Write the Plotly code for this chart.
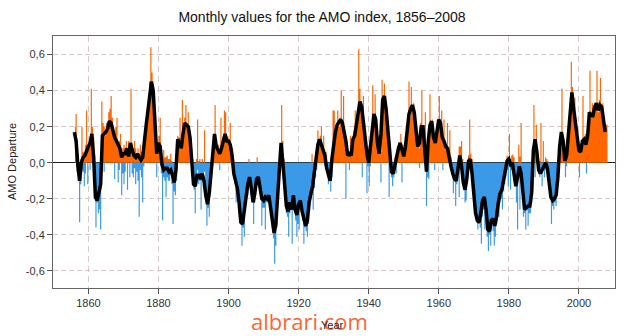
import plotly.graph_objects as go

# Running-mean AMO curve, half-year steps starting 1856.0
smooth_1856 = [0.17, 0.12, -0.02, -0.10, 0.00, 0.03, 0.04, 0.07, 0.09, 0.11,
               0.16, 0.03, -0.19, -0.21, -0.17, -0.12, 0.15, 0.16, 0.17, 0.19,
               0.23, 0.22, 0.17, 0.14, 0.12, 0.10, 0.08, 0.03, 0.05, 0.05,
               0.08, 0.035, 0.11, 0.07, 0.04, 0.03, 0.05, 0.03, 0.015, 0.03]
smooth_1876 = [0.14, 0.21, 0.29, 0.38, 0.45, 0.40, 0.20, 0.05, 0.11, 0.09,
               -0.01, -0.04, -0.03, -0.03, -0.05, -0.04, -0.07, -0.11, -0.04, 0.13,
               0.11, 0.08, 0.16, 0.22, 0.21, 0.20, 0.14, 0.03, -0.12, -0.13,
               -0.07, -0.07, -0.09, -0.06, -0.10, -0.18, -0.23, -0.17, -0.04, 0.07]
smooth_1896 = [0.16, 0.09, 0.07, 0.05, 0.08, 0.13, 0.16, 0.12, 0.12, 0.10,
               0.04, -0.06, -0.10, -0.14, -0.22, -0.33, -0.34, -0.25, -0.19, -0.12,
               -0.08, -0.14, -0.22, -0.17, -0.09, -0.08, -0.13, -0.20, -0.21, -0.19,
               -0.20, -0.18, -0.25, -0.34, -0.39, -0.34, -0.18, -0.02, 0.11, 0.00]
smooth_1916 = [-0.13, -0.24, -0.27, -0.22, -0.26, -0.18, -0.26, -0.29, -0.23, -0.21,
               -0.27, -0.32, -0.35, -0.32, -0.22, -0.17, -0.13, -0.05, 0.03, 0.10,
               0.13, 0.10, 0.07, 0.04, -0.03, -0.07, -0.10, 0.02, 0.12, 0.17,
               0.21, 0.23, 0.24, 0.22, 0.17, 0.12, 0.04, 0.05, 0.04, 0.13]
smooth_1936 = [0.15, 0.21, 0.29, 0.34, 0.31, 0.22, 0.15, 0.05, 0.00, 0.08,
               0.17, 0.27, 0.24, 0.11, 0.05, 0.16, 0.35, 0.37, 0.29, 0.18,
               0.07, -0.05, -0.06, -0.01, 0.04, 0.08, 0.11, 0.07, 0.035, 0.09,
               0.20, 0.27, 0.30, 0.32, 0.28, 0.19, 0.09, 0.11, 0.20, 0.20]
smooth_1956 = [0.07, -0.05, 0.12, 0.21, 0.23, 0.14, 0.11, 0.18, 0.24, 0.22,
               0.14, 0.12, 0.09, 0.08, 0.02, -0.02, -0.06, -0.09, -0.10, -0.03,
               0.04, -0.02, -0.11, -0.15, -0.09, 0.01, 0.02, -0.06, -0.18, -0.28,
               -0.32, -0.33, -0.28, -0.21, -0.19, -0.26, -0.37, -0.38, -0.32, -0.31]
smooth_1976 = [-0.35, -0.30, -0.22, -0.17, -0.15, -0.10, -0.04, 0.01, 0.02, -0.01,
               0.00, -0.07, -0.13, -0.08, -0.02, -0.06, -0.19, -0.26, -0.25, -0.24,
               -0.24, -0.17, 0.07, 0.13, 0.06, -0.04, -0.06, -0.04, -0.03, 0.00,
               -0.03, -0.12, -0.19, -0.21, -0.20, -0.18, -0.08, 0.09, 0.17, 0.12]
smooth_1996 = [0.01, 0.04, 0.15, 0.29, 0.39, 0.30, 0.22, 0.12, 0.07, 0.06,
               0.12, 0.13, 0.10, 0.15, 0.28, 0.26, 0.26, 0.31, 0.33, 0.29,
               0.32, 0.31, 0.24, 0.17]

# Monthly anomalies: highest and lowest month in each third of a year, from 1856
hi_1856 = [0.20, 0.27, 0.12, 0.05, -0.05, 0.02, 0.20, 0.06, 0.05, 0.10, 0.29, 0.08,
           0.12, 0.10, 0.41, 0.20, 0.14, 0.04, -0.12, -0.10, -0.05, -0.08, -0.10, 0.34,
           0.22, 0.20, 0.15, 0.22, 0.18, 0.28, 0.30, 0.37, 0.25, 0.15, 0.12, 0.20,
           0.25, 0.10, 0.12, 0.16, 0.06, 0.08, 0.10, 0.08, 0.12, 0.08, 0.12, 0.06,
           0.41, 0.10, 0.08, 0.12, 0.08, 0.05, 0.08, 0.05, 0.10, 0.06, 0.04, 0.15]
lo_1856 = [0.08, 0.10, -0.05, -0.10, -0.33, -0.12, -0.04, -0.05, -0.13, -0.06, 0.02, -0.12,
           0.02, -0.04, 0.08, 0.10, -0.02, -0.10, -0.36, -0.22, -0.28, -0.26, -0.37, 0.05,
           0.08, -0.05, 0.06, 0.10, 0.08, 0.12, 0.15, 0.12, 0.10, 0.05, -0.09, 0.04,
           0.04, -0.11, -0.04, 0.02, -0.18, -0.06, -0.12, -0.05, 0.01, -0.15, 0.02, -0.08,
           0.05, -0.06, -0.08, -0.03, -0.12, -0.05, -0.10, -0.30, -0.04, -0.08, -0.22, -0.02]
hi_1876 = [0.18, 0.25, 0.28, 0.30, 0.45, 0.64, 0.50, 0.42, 0.33, 0.25, 0.06, 0.10,
           0.15, 0.25, 0.08, 0.02, 0.07, 0.03, 0.03, 0.04, 0.02, 0.02, 0.05, 0.01,
           -0.02, -0.04, -0.05, 0.02, 0.15, 0.14, 0.25, 0.10, 0.35, 0.18, 0.25, 0.32,
           0.22, 0.28, 0.15, 0.14, 0.08, 0.02, -0.05, -0.08, 0.02, 0.24, 0.01, 0.02,
           -0.02, 0.02, -0.03, 0.18, -0.03, -0.08, -0.12, -0.10, -0.02, 0.04, 0.08, 0.12]
lo_1876 = [0.05, 0.12, 0.15, 0.20, 0.30, 0.35, 0.38, 0.30, 0.20, 0.10, -0.08, 0.02,
           0.05, 0.03, -0.06, -0.32, -0.08, -0.10, -0.19, -0.08, -0.10, -0.10, -0.06, -0.12,
           -0.34, -0.16, -0.18, -0.10, 0.04, 0.05, 0.08, 0.02, 0.06, 0.10, 0.14, 0.18,
           0.15, 0.12, 0.10, 0.05, -0.04, -0.08, -0.15, -0.28, -0.12, -0.04, -0.12, -0.10,
           -0.26, -0.10, -0.14, -0.05, -0.15, -0.35, -0.25, -0.30, -0.15, -0.08, -0.02, 0.03]
hi_1896 = [0.32, 0.12, 0.10, 0.10, 0.06, 0.25, 0.10, 0.14, 0.29, 0.28, 0.15, 0.14,
           0.12, 0.22, 0.10, 0.08, 0.02, -0.03, -0.05, -0.06, -0.10, -0.14, -0.22, -0.28,
           -0.28, -0.24, -0.15, -0.12, -0.06, 0.02, -0.02, -0.08, -0.08, -0.15, -0.10, -0.06,
           0.03, -0.04, -0.05, -0.08, -0.14, -0.14, -0.16, -0.18, -0.12, -0.14, -0.12, -0.14,
           -0.18, -0.26, -0.30, -0.32, -0.30, -0.20, -0.10, 0.02, 0.08, 0.32, 0.12, 0.02]
lo_1896 = [0.10, 0.04, 0.01, 0.02, -0.04, 0.04, 0.02, 0.06, 0.10, 0.10, 0.06, 0.08,
           0.04, 0.06, 0.02, -0.02, -0.08, -0.12, -0.22, -0.14, -0.20, -0.25, -0.30, -0.46,
           -0.36, -0.41, -0.26, -0.20, -0.18, -0.10, -0.10, -0.18, -0.15, -0.34, -0.22, -0.16,
           -0.10, -0.12, -0.14, -0.18, -0.35, -0.25, -0.25, -0.37, -0.22, -0.22, -0.20, -0.24,
           -0.30, -0.36, -0.42, -0.56, -0.46, -0.36, -0.22, -0.10, -0.02, 0.06, -0.02, -0.08]
hi_1916 = [-0.08, -0.18, -0.20, -0.22, -0.18, -0.14, -0.20, -0.14, -0.10, -0.20, -0.24, -0.22,
           -0.18, -0.14, -0.16, -0.22, -0.26, -0.26, -0.28, -0.26, -0.22, -0.16, -0.10, 0.05,
           -0.10, -0.04, 0.01, 0.04, 0.18, 0.12, 0.15, 0.20, 0.10, 0.15, 0.06, 0.06,
           0.00, -0.05, -0.02, -0.06, 0.05, 0.29, 0.29, 0.16, 0.20, 0.29, 0.20, 0.25,
           0.40, 0.22, 0.37, 0.18, 0.12, 0.10, 0.06, 0.05, 0.15, 0.06, 0.12, 0.18]
lo_1916 = [-0.18, -0.28, -0.30, -0.41, -0.28, -0.24, -0.45, -0.26, -0.22, -0.32, -0.41, -0.34,
           -0.37, -0.25, -0.28, -0.32, -0.45, -0.36, -0.38, -0.41, -0.34, -0.26, -0.20, -0.18,
           -0.26, -0.14, -0.08, -0.04, 0.04, 0.04, 0.08, 0.06, 0.04, 0.04, -0.02, 0.00,
           -0.06, -0.12, -0.10, -0.16, -0.08, 0.05, 0.10, 0.08, 0.12, 0.16, 0.14, 0.18,
           0.18, 0.15, 0.16, 0.10, -0.20, 0.04, 0.02, -0.04, 0.02, 0.00, 0.06, 0.10]
hi_1936 = [0.29, 0.20, 0.25, 0.63, 0.41, 0.30, 0.30, 0.37, 0.22, 0.15, 0.08, 0.06,
           0.03, 0.06, 0.12, 0.43, 0.20, 0.38, 0.25, 0.14, 0.08, 0.08, 0.06, 0.46,
           0.35, 0.44, 0.32, 0.31, 0.18, 0.10, 0.07, -0.02, -0.02, -0.02, 0.03, 0.02,
           0.06, 0.10, 0.08, 0.16, 0.08, 0.10, 0.05, 0.10, 0.15, 0.22, 0.45, 0.25,
           0.42, 0.30, 0.33, 0.25, 0.20, 0.15, 0.10, 0.08, 0.22, 0.40, 0.20, 0.18]
lo_1936 = [0.12, 0.10, 0.18, 0.25, 0.28, 0.22, -0.08, 0.20, 0.12, 0.05, -0.17, -0.02,
           -0.13, -0.02, 0.04, 0.14, 0.16, 0.20, 0.14, 0.06, 0.02, 0.02, -0.11, 0.12,
           0.28, 0.30, 0.22, 0.20, 0.08, -0.19, 0.00, -0.08, -0.13, -0.08, -0.04, -0.06,
           0.01, 0.04, 0.02, 0.06, -0.11, 0.03, 0.00, 0.04, 0.06, 0.16, 0.22, 0.20,
           0.26, 0.24, 0.26, 0.20, 0.14, 0.10, 0.04, -0.03, 0.08, 0.16, 0.12, 0.08]
hi_1956 = [0.28, 0.05, 0.02, 0.10, 0.38, 0.22, 0.24, 0.18, 0.12, 0.12, 0.18, 0.22,
           0.37, 0.20, 0.29, 0.14, 0.24, 0.12, 0.10, 0.22, 0.08, 0.18, 0.03, 0.00,
           -0.04, -0.02, -0.06, -0.08, 0.00, 0.09, 0.09, 0.12, 0.02, -0.08, -0.12, -0.10,
           -0.04, 0.04, 0.24, 0.05, 0.02, -0.03, -0.12, -0.22, -0.26, -0.28, -0.28, -0.30,
           -0.24, -0.20, -0.18, -0.16, -0.18, -0.24, -0.34, -0.34, -0.32, -0.26, -0.28, -0.28]
lo_1956 = [0.05, -0.24, -0.08, -0.09, 0.15, 0.15, 0.18, 0.10, -0.04, 0.08, 0.10, 0.14,
           0.20, 0.16, 0.18, -0.04, 0.08, 0.06, 0.05, 0.06, 0.02, 0.02, -0.04, -0.05,
           -0.17, -0.10, -0.24, -0.12, -0.06, -0.19, 0.02, 0.00, -0.06, -0.14, -0.22, -0.21,
           -0.10, -0.04, 0.00, 0.00, -0.05, -0.10, -0.20, -0.30, -0.33, -0.37, -0.34, -0.36,
           -0.45, -0.30, -0.26, -0.37, -0.26, -0.41, -0.49, -0.40, -0.46, -0.34, -0.38, -0.46]
hi_1976 = [-0.30, -0.26, -0.22, -0.18, -0.14, -0.12, -0.12, -0.08, -0.02, -0.02, 0.04, 0.03,
           0.16, 0.02, 0.04, 0.045, 0.03, -0.02, -0.10, -0.12, 0.10, 0.035, 0.22, -0.02,
           -0.14, -0.20, -0.24, -0.20, -0.22, -0.20, -0.20, -0.14, -0.04, 0.32, 0.12, 0.21,
           0.06, 0.02, 0.01, 0.22, -0.03, 0.12, 0.00, 0.03, 0.02, 0.01, -0.06, -0.10,
           -0.16, -0.18, -0.18, -0.16, -0.18, -0.10, -0.02, 0.08, 0.14, 0.41, 0.15, 0.12]
lo_1976 = [-0.41, -0.34, -0.30, -0.30, -0.22, -0.20, -0.26, -0.16, -0.12, -0.08, -0.04, -0.13,
           -0.02, -0.15, -0.04, -0.03, -0.08, -0.10, -0.22, -0.37, -0.08, -0.26, -0.06, -0.10,
           -0.30, -0.28, -0.37, -0.26, -0.35, -0.28, -0.28, -0.22, -0.16, 0.02, -0.08, 0.04,
           0.00, -0.06, -0.08, -0.06, -0.13, -0.04, -0.08, -0.04, -0.04, -0.06, -0.12, -0.16,
           -0.34, -0.24, -0.26, -0.22, -0.24, -0.18, -0.08, 0.02, 0.06, 0.12, 0.08, 0.04]
hi_1996 = [0.02, 0.05, 0.08, 0.18, 0.30, 0.56, 0.42, 0.33, 0.36, 0.25, 0.18, 0.14,
           0.10, 0.10, 0.08, 0.37, 0.12, 0.16, 0.10, 0.16, 0.20, 0.51, 0.25, 0.33,
           0.28, 0.33, 0.30, 0.51, 0.28, 0.35, 0.47, 0.30, 0.33, 0.22, 0.20, 0.21,
           0.21]
lo_1996 = [-0.08, -0.02, 0.02, 0.10, 0.22, 0.30, 0.34, 0.26, 0.24, 0.18, 0.10, 0.06,
           -0.08, 0.03, 0.04, 0.10, 0.08, 0.10, -0.06, 0.10, 0.12, 0.22, 0.20, 0.22,
           0.22, 0.24, 0.26, 0.28, 0.26, 0.26, 0.28, 0.26, 0.26, 0.18, 0.16, 0.16,
           0.18]

y_ticks = [-0.6, -0.4, -0.2, 0.0, 0.2, 0.4, 0.6]
y_tick_text = ["-0,6", "-0,4", "-0,2", "0,0", "0,2", "0,4", "0,6"]
x_ticks = [1860, 1880, 1900, 1920, 1940, 1960, 1980, 2000]

smooth_vals = (smooth_1856 + smooth_1876 + smooth_1896 + smooth_1916
               + smooth_1936 + smooth_1956 + smooth_1976 + smooth_1996)
smooth_years = [1856.0 + 0.5 * i for i in range(len(smooth_vals))]

hi_vals = (hi_1856 + hi_1876 + hi_1896 + hi_1916
           + hi_1936 + hi_1956 + hi_1976 + hi_1996)
lo_vals = (lo_1856 + lo_1876 + lo_1896 + lo_1916
           + lo_1936 + lo_1956 + lo_1976 + lo_1996)
bin_years = [1856 + (i + 0.5) / 3 for i in range(len(hi_vals))]

POS = "#FF6600"
NEG = "#3A9AE8"

fig = go.Figure()
# warm months: area between zero and each bin's highest positive value
fig.add_trace(go.Scatter(
    x=bin_years, y=[max(v, 0.0) for v in hi_vals], mode="lines",
    line=dict(width=0, shape="hvh"), fill="tozeroy", fillcolor=POS,
    hoverinfo="skip", showlegend=False,
))
# cool months: area between zero and each bin's lowest negative value
fig.add_trace(go.Scatter(
    x=bin_years, y=[min(v, 0.0) for v in lo_vals], mode="lines",
    line=dict(width=0, shape="hvh"), fill="tozeroy", fillcolor=NEG,
    hoverinfo="skip", showlegend=False,
))
fig.add_trace(go.Scatter(
    x=smooth_years, y=smooth_vals, mode="lines",
    line=dict(color="black", width=3.5),
    hoverinfo="skip", showlegend=False,
))

font_family = "Liberation Sans, Arial, sans-serif"
grid_col = "#D9C8C8"

fig.update_layout(
    width=625, height=336,
    margin=dict(l=53, r=10, t=36, b=48),
    paper_bgcolor="white", plot_bgcolor="white",
    font=dict(family=font_family, size=11, color="#333"),
    title=dict(
        text="Monthly values for the AMO index, 1856\u20132008",
        x=(322 - 53) / 562, xref="paper", xanchor="center",
        y=1 - 17 / 336, yref="container", yanchor="middle",
        font=dict(family=font_family, size=14, color="#111"),
    ),
    xaxis=dict(
        range=[1849.9, 2010.3], tickvals=x_ticks,
        ticks="outside", ticklen=5, tickcolor="#555",
        showline=True, mirror=True, linecolor="#666", linewidth=1,
        showgrid=True, gridcolor=grid_col, griddash="6px,4px", gridwidth=1,
        zeroline=False, tickfont=dict(size=11, color="#333"),
    ),
    yaxis=dict(
        range=[-0.695, 0.703], tickvals=y_ticks, ticktext=y_tick_text,
        ticks="outside", ticklen=5, tickcolor="#555",
        showline=True, mirror=True, linecolor="#666", linewidth=1,
        showgrid=True, gridcolor=grid_col, griddash="5px,3px", gridwidth=1,
        zeroline=True, zerolinecolor="#222", zerolinewidth=1,
        tickfont=dict(size=11, color="#333"),
    ),
    annotations=[
        dict(text="AMO Departure", xref="paper", yref="paper",
             x=(12 - 53) / 562, y=0.5, textangle=-90, showarrow=False,
             xanchor="center", yanchor="middle",
             font=dict(family=font_family, size=11, color="#222")),
        dict(text="albrari.com", xref="paper", yref="paper",
             x=(309 - 53) / 562, y=(288 - 321) / 252, showarrow=False,
             xanchor="center", yanchor="middle",
             font=dict(family="Open Sans, sans-serif", size=22, color="#FF6633")),
        dict(text="Year", xref="paper", yref="paper",
             x=(332 - 53) / 562, y=(288 - 325) / 252, showarrow=False,
             xanchor="center", yanchor="middle",
             font=dict(family=font_family, size=11, color="#222")),
    ],
)

fig.write_html("out.html")
